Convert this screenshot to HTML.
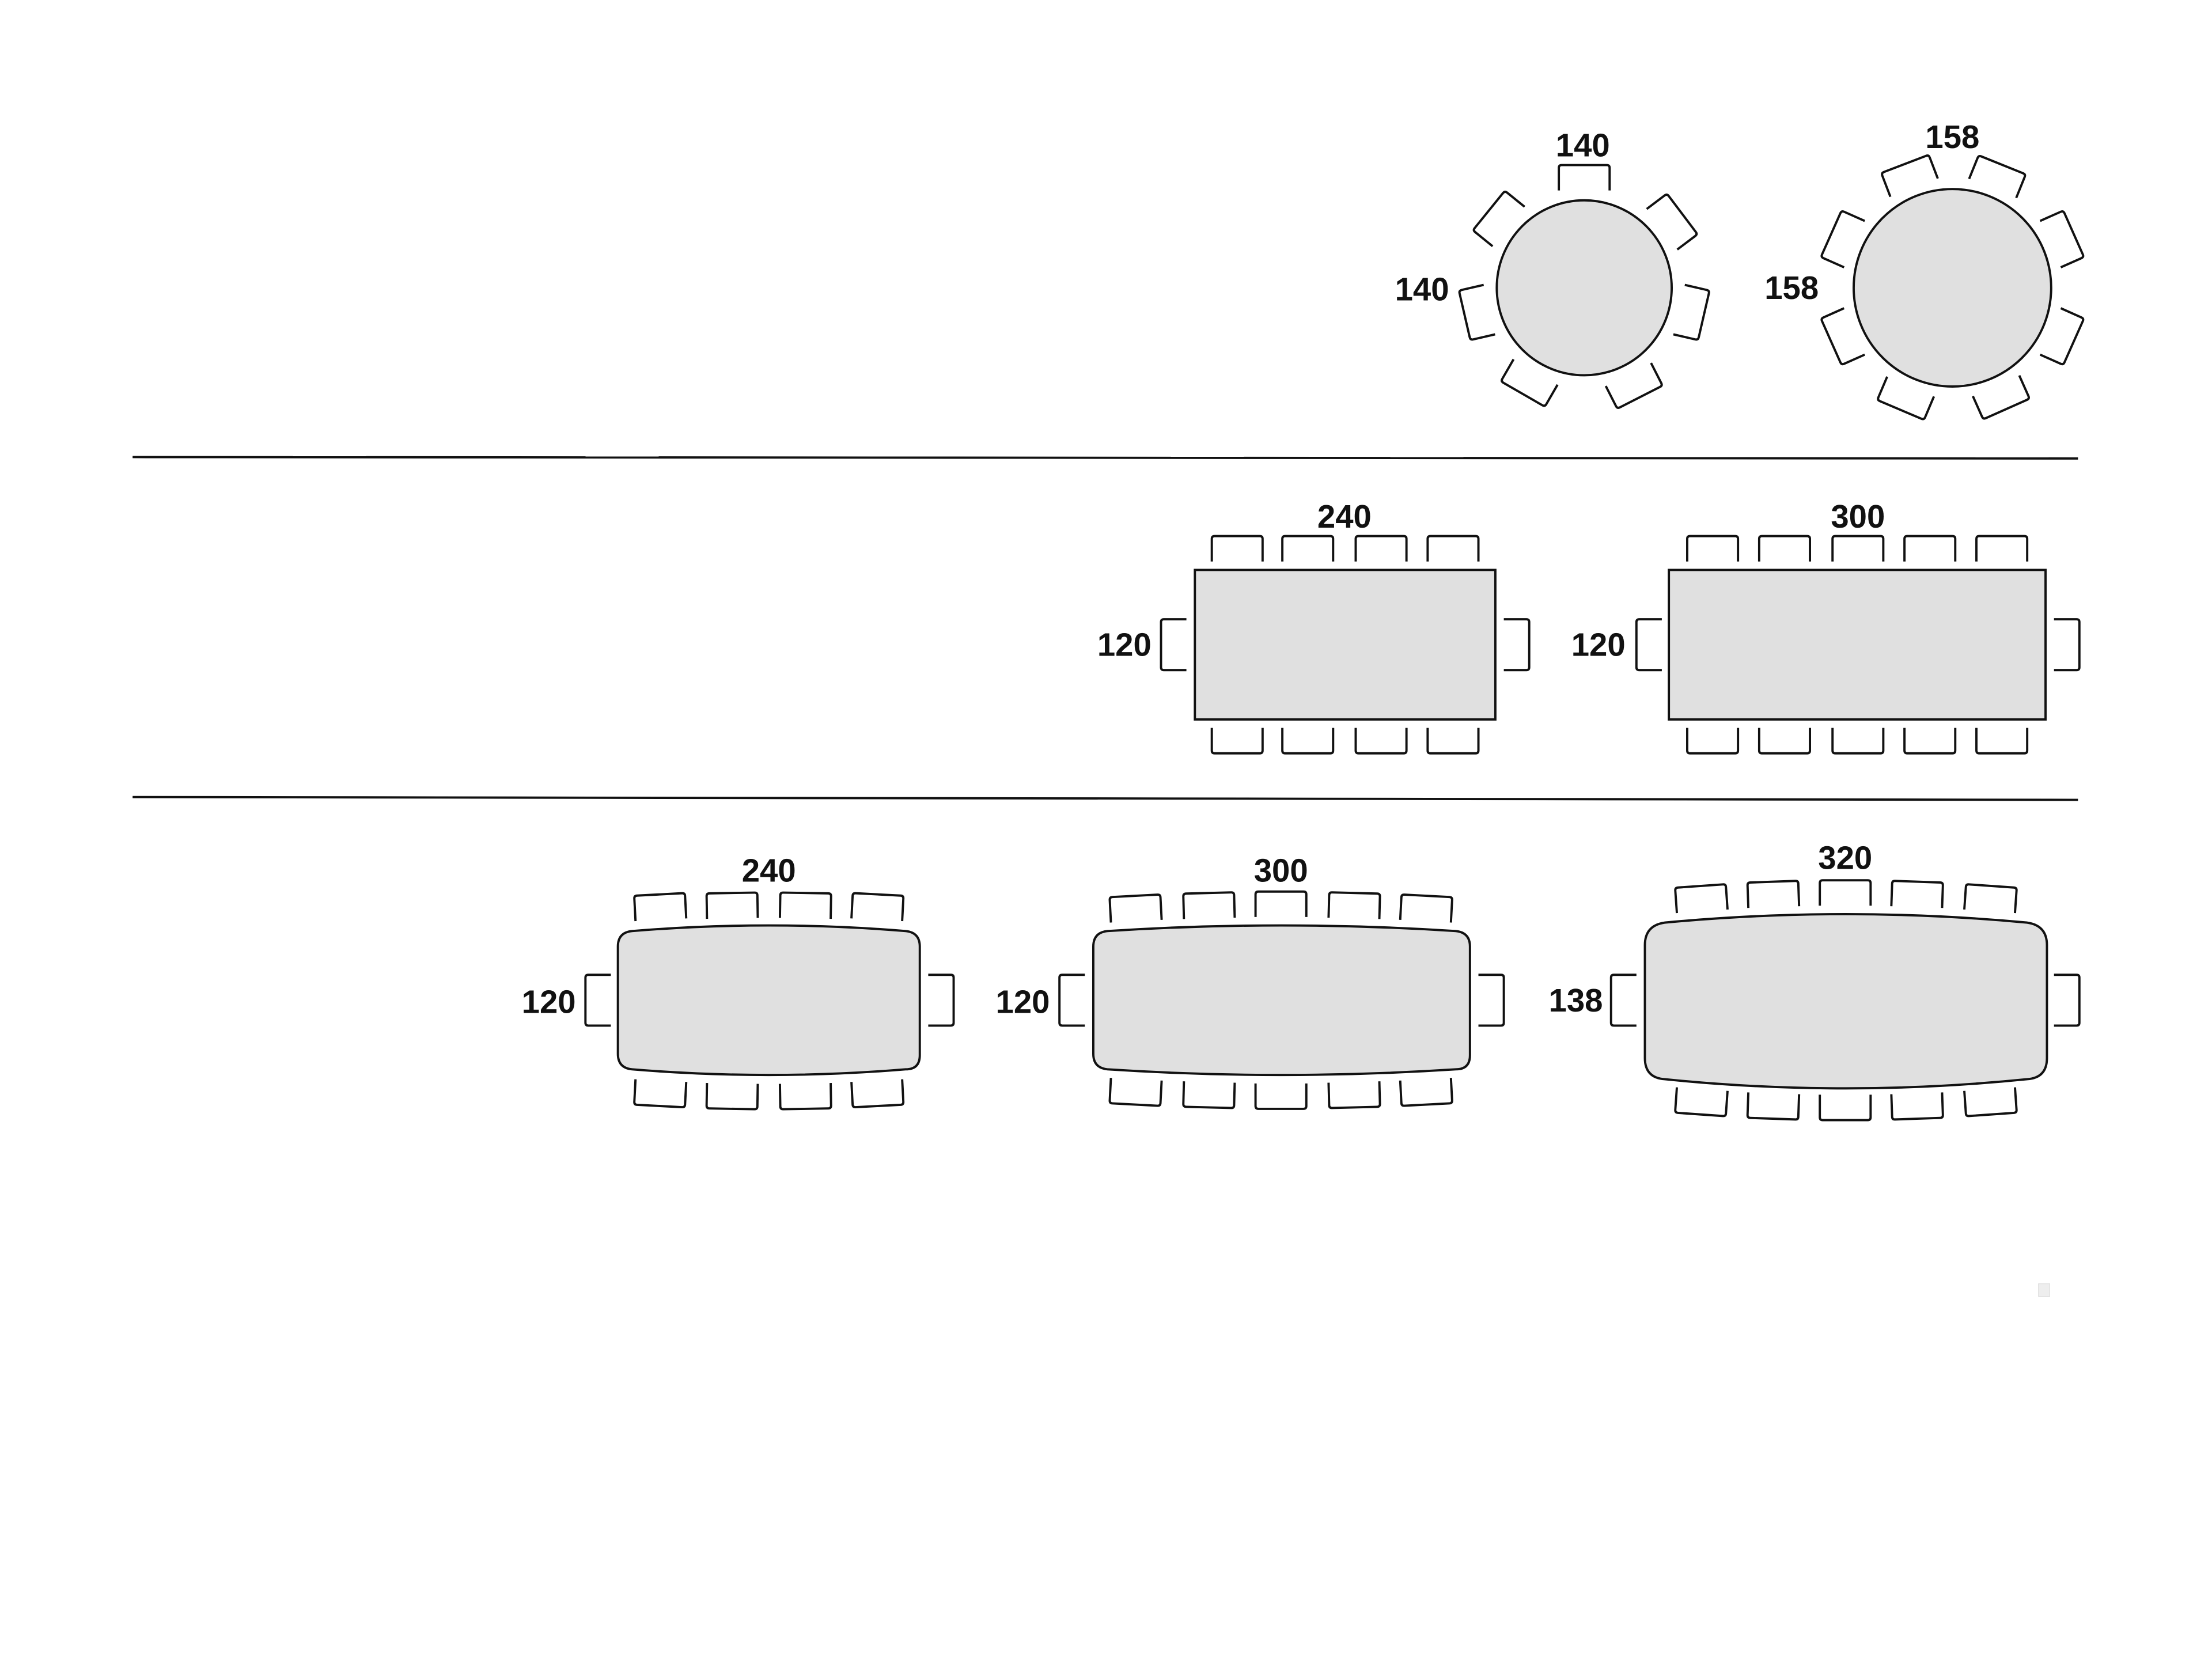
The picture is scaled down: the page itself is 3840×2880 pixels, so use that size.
<!DOCTYPE html>
<html><head><meta charset="utf-8"><style>html,body{margin:0;padding:0;background:#fff}svg{display:block}</style></head>
<body>
<svg width="3840" height="2880" viewBox="0 0 1568 1176" xmlns="http://www.w3.org/2000/svg">
<defs>
<path id="c" d="M -18,9 L -18,-7 Q -18,-9 -16,-9 L 16,-9 Q 18,-9 18,-7 L 18,9" fill="none" stroke="#111" stroke-width="1.6"/>
</defs>
<rect width="1568" height="1176" fill="#fff"/>
<g stroke="#111" stroke-width="1.6">
<line x1="94" y1="324" x2="1473" y2="325"/>
<line x1="94" y1="565" x2="1473" y2="567"/>
</g>
<g font-family="'Liberation Sans', sans-serif" font-weight="bold" font-size="23" fill="#111" text-anchor="middle" dominant-baseline="central">
<text x="1122" y="103">140</text><text x="1008" y="205">140</text>
<text x="1384" y="97">158</text><text x="1270" y="204">158</text>
<text x="953" y="366">240</text><text x="797" y="457">120</text>
<text x="1317" y="366">300</text><text x="1133" y="457">120</text>
<text x="545" y="617">240</text><text x="389" y="710">120</text>
<text x="908" y="617">300</text><text x="725" y="710">120</text>
<text x="1308" y="608">320</text><text x="1117" y="709">138</text>
</g>
<g fill="#e0e0e0" stroke="#111" stroke-width="1.6">
<circle cx="1123" cy="204" r="62"/>
<circle cx="1384" cy="204" r="70"/>
<rect x="847" y="404" width="213" height="106"/>
<rect x="1183" y="404" width="267" height="106"/>
<path d="M 448,660 Q 545,652 642,660 Q 652,661 652,671 L 652,748 Q 652,758 642,758 Q 545,766 448,758 Q 438,757 438,747 L 438,671 Q 438,661 448,660 Z"/>
<path d="M 785,660 Q 908,652 1032,660 Q 1042,661 1042,671 L 1042,748 Q 1042,758 1032,758 Q 908,766 785,758 Q 775,757 775,747 L 775,671 Q 775,661 785,660 Z"/>
<path d="M 1180,654 Q 1308,642 1437,654 Q 1451,656 1451,670 L 1451,750 Q 1451,764 1437,765 Q 1308,778 1180,765 Q 1166,764 1166,750 L 1166,670 Q 1166,656 1180,654 Z"/>
</g>
<!-- round 1 chairs -->
<use href="#c" transform="translate(1123,126) rotate(0)"/>
<use href="#c" transform="translate(1062.4,154.9) rotate(-51)"/>
<use href="#c" transform="translate(1185.3,157.1) rotate(53)"/>
<use href="#c" transform="translate(1047,221.5) rotate(257)"/>
<use href="#c" transform="translate(1199,221.5) rotate(103)"/>
<use href="#c" transform="translate(1084,271.5) rotate(210)"/>
<use href="#c" transform="translate(1158.4,273.5) rotate(153)"/>
<!-- round 2 chairs -->
<use href="#c" transform="translate(1353.6,124.6) rotate(-21)"/>
<use href="#c" transform="translate(1415.9,125.2) rotate(22)"/>
<use href="#c" transform="translate(1306.3,169.4) rotate(294)"/>
<use href="#c" transform="translate(1306.3,238.6) rotate(246)"/>
<use href="#c" transform="translate(1461.7,169.4) rotate(66)"/>
<use href="#c" transform="translate(1461.7,238.6) rotate(114)"/>
<use href="#c" transform="translate(1350.8,282.3) rotate(203)"/>
<use href="#c" transform="translate(1418.6,281.7) rotate(156)"/>
<!-- table A -->
<use href="#c" transform="translate(877,389)"/><use href="#c" transform="translate(927,389)"/>
<use href="#c" transform="translate(979,389)"/><use href="#c" transform="translate(1030,389)"/>
<use href="#c" transform="translate(877,525) rotate(180)"/><use href="#c" transform="translate(927,525) rotate(180)"/>
<use href="#c" transform="translate(979,525) rotate(180)"/><use href="#c" transform="translate(1030,525) rotate(180)"/>
<use href="#c" transform="translate(832,457) rotate(-90)"/><use href="#c" transform="translate(1075,457) rotate(90)"/>
<!-- table B -->
<use href="#c" transform="translate(1214,389)"/><use href="#c" transform="translate(1265,389)"/>
<use href="#c" transform="translate(1317,389)"/><use href="#c" transform="translate(1368,389)"/><use href="#c" transform="translate(1419,389)"/>
<use href="#c" transform="translate(1214,525) rotate(180)"/><use href="#c" transform="translate(1265,525) rotate(180)"/>
<use href="#c" transform="translate(1317,525) rotate(180)"/><use href="#c" transform="translate(1368,525) rotate(180)"/><use href="#c" transform="translate(1419,525) rotate(180)"/>
<use href="#c" transform="translate(1169,457) rotate(-90)"/><use href="#c" transform="translate(1465,457) rotate(90)"/>
<!-- table C -->
<use href="#c" transform="translate(468,643) rotate(-3)"/><use href="#c" transform="translate(519,642) rotate(-1)"/>
<use href="#c" transform="translate(571,642) rotate(1)"/><use href="#c" transform="translate(622,643) rotate(3)"/>
<use href="#c" transform="translate(468,775) rotate(183)"/><use href="#c" transform="translate(519,777) rotate(181)"/>
<use href="#c" transform="translate(571,777) rotate(179)"/><use href="#c" transform="translate(622,775) rotate(177)"/>
<use href="#c" transform="translate(424,709) rotate(-90)"/><use href="#c" transform="translate(667,709) rotate(90)"/>
<!-- table D -->
<use href="#c" transform="translate(805,644) rotate(-3)"/><use href="#c" transform="translate(857,642) rotate(-1.5)"/>
<use href="#c" transform="translate(908,641)"/><use href="#c" transform="translate(960,642) rotate(1.5)"/><use href="#c" transform="translate(1011,644) rotate(3)"/>
<use href="#c" transform="translate(805,774) rotate(183)"/><use href="#c" transform="translate(857,776) rotate(181.5)"/>
<use href="#c" transform="translate(908,777) rotate(180)"/><use href="#c" transform="translate(960,776) rotate(178.5)"/><use href="#c" transform="translate(1011,774) rotate(177)"/>
<use href="#c" transform="translate(760,709) rotate(-90)"/><use href="#c" transform="translate(1057,709) rotate(90)"/>
<!-- table E -->
<use href="#c" transform="translate(1206,637) rotate(-4)"/><use href="#c" transform="translate(1257,634) rotate(-2)"/>
<use href="#c" transform="translate(1308,633)"/><use href="#c" transform="translate(1359,634) rotate(2)"/><use href="#c" transform="translate(1411,637) rotate(4)"/>
<use href="#c" transform="translate(1206,781) rotate(184)"/><use href="#c" transform="translate(1257,784) rotate(182)"/>
<use href="#c" transform="translate(1308,785) rotate(180)"/><use href="#c" transform="translate(1359,784) rotate(178)"/><use href="#c" transform="translate(1411,781) rotate(176)"/>
<use href="#c" transform="translate(1151,709) rotate(-90)"/><use href="#c" transform="translate(1465,709) rotate(90)"/>
<rect x="1445" y="910" width="8" height="9" fill="#eee" stroke="#ddd" stroke-width="0.5"/>
</svg>
</body></html>
